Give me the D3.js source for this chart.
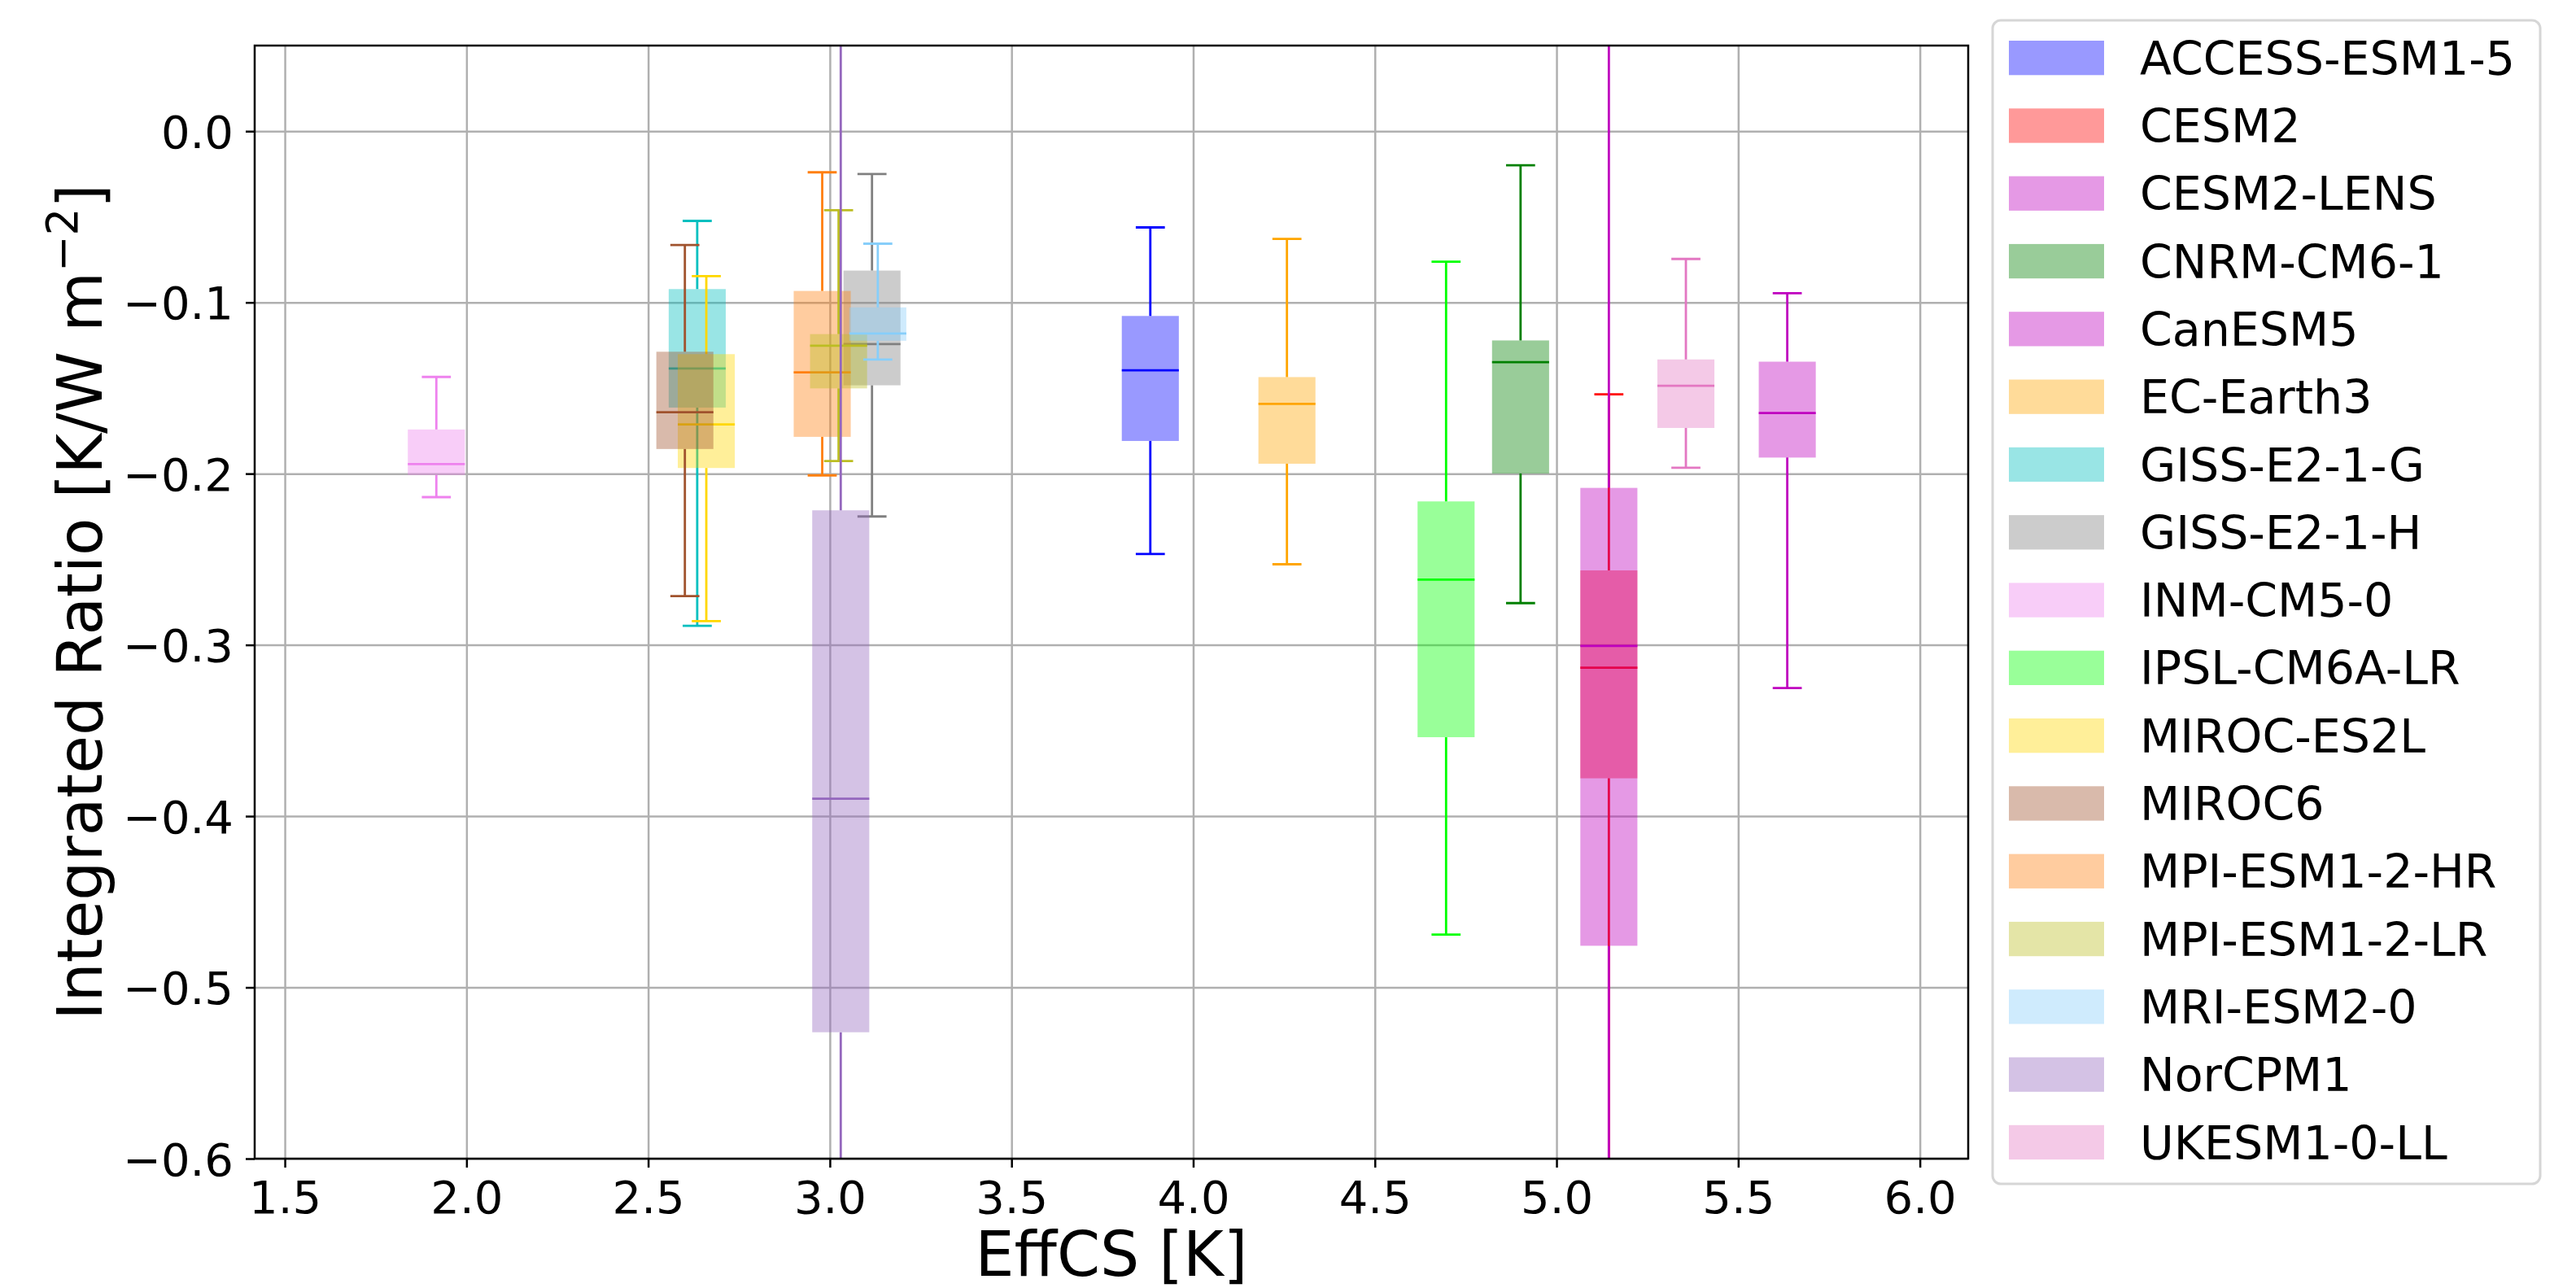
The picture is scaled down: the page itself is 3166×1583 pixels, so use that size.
<!DOCTYPE html>
<html>
<head>
<meta charset="utf-8">
<script src="https://cdn.jsdelivr.net/npm/d3@7"></script>
<style>
  html,body{margin:0;padding:0;background:#fff;}
  svg{display:block;font-family:"DejaVu Sans",sans-serif;}
</style>
</head>
<body>
<svg id="chart" width="3166" height="1583"></svg>
<script>
// ===== data =====
const models = ["ACCESS-ESM1-5","CESM2","CESM2-LENS","CNRM-CM6-1","CanESM5","EC-Earth3",
  "GISS-E2-1-G","GISS-E2-1-H","INM-CM5-0","IPSL-CM6A-LR","MIROC-ES2L","MIROC6",
  "MPI-ESM1-2-HR","MPI-ESM1-2-LR","MRI-ESM2-0","NorCPM1","UKESM1-0-LL"];
const effcs  = [3.882, 5.144, 5.144, 4.901, 5.635, 4.258, 2.635, 3.116, 1.917, 4.696, 2.660, 2.601, 2.979, 3.024, 3.132, 3.030, 5.356];
const whisHi = [-0.0562,-0.1537, 0.15,-0.0199,-0.0946,-0.0629,-0.0524,-0.0250,-0.1435,-0.0762,-0.0846,-0.0665,-0.0240,-0.0462,-0.0657, 0.15,-0.0746];
const q3     = [-0.1079,-0.2565,-0.2083,-0.1222,-0.1346,-0.1436,-0.0922,-0.0814,-0.1742,-0.2162,-0.1302,-0.1288,-0.0933,-0.1185,-0.1029,-0.2214,-0.1333];
const med    = [-0.1396,-0.3133,-0.3006,-0.1349,-0.1646,-0.1592,-0.1386,-0.1243,-0.1944,-0.2619,-0.1712,-0.1641,-0.1408,-0.1253,-0.1181,-0.3898,-0.1487];
const q1     = [-0.1809,-0.3779,-0.4757,-0.1999,-0.1906,-0.1942,-0.1614,-0.1484,-0.2008,-0.3539,-0.1967,-0.1856,-0.1785,-0.1502,-0.1224,-0.5262,-0.1733];
const whisLo = [-0.2469,-0.62,  -0.75,  -0.2756,-0.3252,-0.2529,-0.2888,-0.2250,-0.2137,-0.4692,-0.2861,-0.2715,-0.2010,-0.1926,-0.1333,-0.75,  -0.1965];
const xTicks = [1.5, 2.0, 2.5, 3.0, 3.5, 4.0, 4.5, 5.0, 5.5, 6.0];
const yTicks = [0.0, -0.1, -0.2, -0.3, -0.4, -0.5, -0.6];
const colors = ["#0000ff","#ff0000","#bf00bf","#008000","#bf00bf","#ffa500",
  "#00bfbf","#808080","#ee82ee","#00ff00","#ffd700","#a0522d",
  "#ff7f0e","#bcbd22","#87cefa","#9467bd","#e377c2"];

// ===== layout =====
const M = {top:56, right:747, bottom:159, left:313};
const W = 3166, H = 1583;
const innerW = W - M.left - M.right;
const innerH = H - M.top - M.bottom;
const BOX_HALF = 0.0785, CAP_HALF = 0.04;

const svg = d3.select("#chart");

const x = d3.scaleLinear().domain([1.417, 6.133]).range([M.left, M.left + innerW]);
const y = d3.scaleLinear().domain([-0.6, 0.05]).range([M.top + innerH, M.top]);

// ===== grid =====
const gridG = svg.append("g");
gridG.append("g")
  .attr("transform",`translate(0,${M.top + innerH})`)
  .call(d3.axisBottom(x).tickValues(xTicks).tickSize(-innerH).tickFormat(""));
gridG.append("g")
  .attr("transform",`translate(${M.left},0)`)
  .call(d3.axisLeft(y).tickValues(yTicks).tickSize(-innerW).tickFormat(""));
gridG.selectAll("path").remove();
gridG.selectAll("line").attr("stroke","#b0b0b0").attr("stroke-width",2.5);

// ===== boxes =====
svg.append("clipPath").attr("id","plotclip")
  .append("rect").attr("x",M.left).attr("y",M.top).attr("width",innerW).attr("height",innerH);
const plotG = svg.append("g").attr("clip-path","url(#plotclip)");

models.forEach((m,i)=>{
  const c = colors[i], cx = effcs[i];
  const g = plotG.append("g");
  g.append("rect")
    .attr("x", x(cx - BOX_HALF)).attr("width", x(cx + BOX_HALF) - x(cx - BOX_HALF))
    .attr("y", y(q3[i])).attr("height", y(q1[i]) - y(q3[i]))
    .attr("fill", c).attr("fill-opacity", 0.4);
  const seg = (x1,y1,x2,y2)=> g.append("line")
    .attr("x1",x1).attr("y1",y1).attr("x2",x2).attr("y2",y2)
    .attr("stroke",c).attr("stroke-width",2.8);
  // whiskers
  seg(x(cx), y(q3[i]), x(cx), y(whisHi[i]));
  seg(x(cx), y(q1[i]), x(cx), y(whisLo[i]));
  // caps
  seg(x(cx - CAP_HALF), y(whisHi[i]), x(cx + CAP_HALF), y(whisHi[i]));
  seg(x(cx - CAP_HALF), y(whisLo[i]), x(cx + CAP_HALF), y(whisLo[i]));
  // median
  seg(x(cx - BOX_HALF), y(med[i]), x(cx + BOX_HALF), y(med[i]));
});

// ===== axes =====
const axesG = svg.append("g");
const gx = axesG.append("g")
  .attr("transform",`translate(0,${M.top + innerH})`)
  .call(d3.axisBottom(x).tickValues(xTicks).tickSize(11).tickPadding(16).tickFormat(d3.format(".1f")));
const gy = axesG.append("g")
  .attr("transform",`translate(${M.left},0)`)
  .call(d3.axisLeft(y).tickValues(yTicks).tickSize(11).tickPadding(15).tickFormat(d3.format(".1f")));
axesG.selectAll("path").remove();
axesG.selectAll("line").attr("stroke","#000").attr("stroke-width",2.5);
axesG.selectAll("text").attr("fill","#000").attr("font-size","56px")
  .attr("font-family","DejaVu Sans");
gy.selectAll("text").attr("dy","0.36em");

svg.append("rect")
  .attr("x",M.left).attr("y",M.top).attr("width",innerW).attr("height",innerH)
  .attr("fill","none").attr("stroke","#000").attr("stroke-width",2.5);

// ===== labels =====
svg.append("text")
  .attr("x", M.left + innerW/2).attr("y", 1568)
  .attr("text-anchor","middle").attr("font-size","76px")
  .text("EffCS [K]");

const yl = svg.append("text")
  .attr("transform",`translate(125,${M.top + innerH/2}) rotate(-90)`)
  .attr("text-anchor","middle").attr("font-size","76px");
yl.append("tspan").text("Integrated Ratio [K/W m");
yl.append("tspan").attr("font-size","53px").attr("dy","-30").text("\u22122");
yl.append("tspan").attr("dy","30").text("]");

// ===== legend =====
const legG = svg.append("g");
legG.append("rect")
  .attr("x",2449).attr("y",25).attr("width",673).attr("height",1430)
  .attr("rx",10).attr("fill","#fff").attr("stroke","#d6d6d6").attr("stroke-width",3);
models.forEach((m,i)=>{
  const top = 50 + i*83.3;
  legG.append("rect")
    .attr("x",2469).attr("y",top).attr("width",117).attr("height",42.3)
    .attr("fill",colors[i]).attr("fill-opacity",0.4);
  legG.append("text")
    .attr("x",2630).attr("y",top + 41.7)
    .attr("font-size","57px").attr("fill","#000")
    .text(m);
});
</script>
</body>
</html>
